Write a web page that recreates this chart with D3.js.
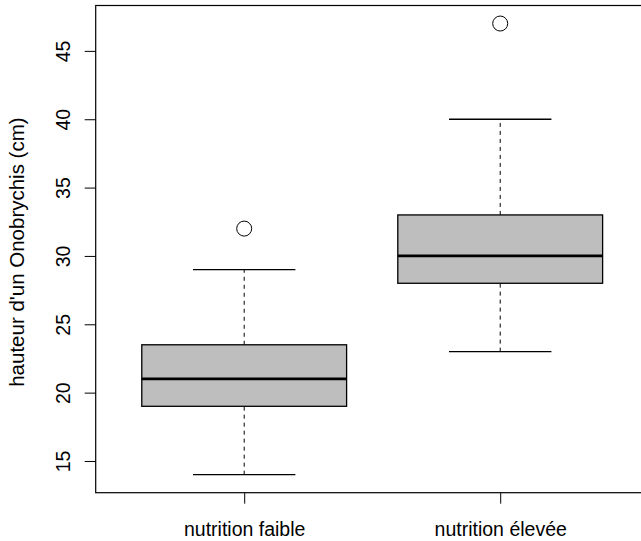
<!DOCTYPE html>
<html>
<head>
<meta charset="utf-8">
<script src="https://d3js.org/d3.v7.min.js"></script>
<style>
  body { margin: 0; background: #fff; }
  text { font-family: "Liberation Sans", Arial, Helvetica, sans-serif; }
</style>
</head>
<body>
<div id="my_dataviz"></div>
<script>
// data
var categories = ["nutrition faible", "nutrition élevée"];
var whiskerLow = [14, 23];
var q1 = [19, 28];
var median = [21, 30];
var q3 = [23.5, 33];
var whiskerHigh = [29, 40];
var outliers = [[32], [47]];
var yTicks = [15, 20, 25, 30, 35, 40, 45];
var yLabel = "hauteur d'un Onobrychis (cm)";

var W = 641, H = 541;
var plot = { left: 95.7, top: 5.5, bottom: 492.7, right: 648.7 };
var fontSize = "19.5px";

var svg = d3.select("#my_dataviz")
  .append("svg")
  .attr("width", W)
  .attr("height", H);

var boxes = categories.map(function (c, i) {
  return {
    name: c, pos: i + 1,
    lo: whiskerLow[i], q1: q1[i], med: median[i], q3: q3[i], hi: whiskerHigh[i],
    out: outliers[i]
  };
});

// R style range: data extent padded by 4%
var allVals = d3.merge([whiskerLow, whiskerHigh, d3.merge(outliers)]);
var yMin = d3.min(allVals), yMax = d3.max(allVals);
var pad = (yMax - yMin) * 0.04;
var y = d3.scaleLinear()
  .domain([yMin - pad, yMax + pad])
  .range([plot.bottom, plot.top]);

var xPad = categories.length * 0.04;
var x = d3.scaleLinear()
  .domain([0.5 - xPad, categories.length + 0.5 + xPad])
  .range([plot.left, plot.right]);

var boxHalf = 0.4, capHalf = 0.2;

var g = svg.selectAll("g.box")
  .data(boxes)
  .enter()
  .append("g")
  .attr("class", "box");

// dashed whiskers
g.append("line")
  .attr("x1", function (d) { return x(d.pos) })
  .attr("x2", function (d) { return x(d.pos) })
  .attr("y1", function (d) { return y(d.lo) })
  .attr("y2", function (d) { return y(d.q1) })
  .attr("stroke", "#000").attr("stroke-width", 1).attr("stroke-dasharray", "4,4");
g.append("line")
  .attr("x1", function (d) { return x(d.pos) })
  .attr("x2", function (d) { return x(d.pos) })
  .attr("y1", function (d) { return y(d.q3) })
  .attr("y2", function (d) { return y(d.hi) })
  .attr("stroke", "#000").attr("stroke-width", 1).attr("stroke-dasharray", "4,4");

// caps
["lo", "hi"].forEach(function (k) {
  g.append("line")
    .attr("x1", function (d) { return x(d.pos - capHalf) })
    .attr("x2", function (d) { return x(d.pos + capHalf) })
    .attr("y1", function (d) { return y(d[k]) })
    .attr("y2", function (d) { return y(d[k]) })
    .attr("stroke", "#000").attr("stroke-width", 1.3);
});

// box
g.append("rect")
  .attr("x", function (d) { return x(d.pos - boxHalf) })
  .attr("width", function (d) { return x(d.pos + boxHalf) - x(d.pos - boxHalf) })
  .attr("y", function (d) { return y(d.q3) })
  .attr("height", function (d) { return y(d.q1) - y(d.q3) })
  .attr("fill", "#bebebe")
  .attr("stroke", "#000").attr("stroke-width", 1.3);

// median
g.append("line")
  .attr("x1", function (d) { return x(d.pos - boxHalf) })
  .attr("x2", function (d) { return x(d.pos + boxHalf) })
  .attr("y1", function (d) { return y(d.med) })
  .attr("y2", function (d) { return y(d.med) })
  .attr("stroke", "#000").attr("stroke-width", 2.8);

// outliers
g.selectAll("circle")
  .data(function (d) { return d.out.map(function (v) { return { pos: d.pos, v: v } }) })
  .enter()
  .append("circle")
  .attr("cx", function (d) { return x(d.pos) })
  .attr("cy", function (d) { return y(d.v) })
  .attr("r", 7.5)
  .attr("fill", "none")
  .attr("stroke", "#000").attr("stroke-width", 1);

// frame
svg.append("rect")
  .attr("x", plot.left).attr("y", plot.top)
  .attr("width", plot.right - plot.left)
  .attr("height", plot.bottom - plot.top)
  .attr("fill", "none").attr("stroke", "#000").attr("stroke-width", 1.2);

// y axis
var yAxis = svg.append("g")
  .attr("transform", "translate(" + plot.left + ",0)")
  .call(d3.axisLeft(y).tickValues(yTicks).tickSize(11).tickFormat(d3.format("d")));
yAxis.select(".domain").remove();
yAxis.selectAll("line").attr("stroke", "#000");
yAxis.selectAll("text")
  .attr("x", null).attr("dy", null)
  .attr("transform", "translate(-26,0) rotate(-90)")
  .attr("text-anchor", "middle")
  .attr("fill", "#000")
  .style("font-size", fontSize)
  .style("font-family", "'Liberation Sans', Arial, sans-serif");

// x axis
var xAxis = svg.append("g")
  .attr("transform", "translate(0," + plot.bottom + ")")
  .call(d3.axisBottom(x).tickValues(boxes.map(function (d) { return d.pos }))
    .tickSize(11).tickFormat(function (v) { return categories[v - 1] }));
xAxis.select(".domain").remove();
xAxis.selectAll("line").attr("stroke", "#000");
xAxis.selectAll("text")
  .attr("dy", null).attr("y", 43.5)
  .attr("fill", "#000")
  .style("font-size", fontSize)
  .style("font-family", "'Liberation Sans', Arial, sans-serif");

// y label
svg.append("text")
  .attr("transform", "translate(24," + ((plot.top + plot.bottom) / 2 + 3) + ") rotate(-90)")
  .attr("text-anchor", "middle")
  .style("font-size", "20.5px")
  .text(yLabel);
</script>
</body>
</html>
